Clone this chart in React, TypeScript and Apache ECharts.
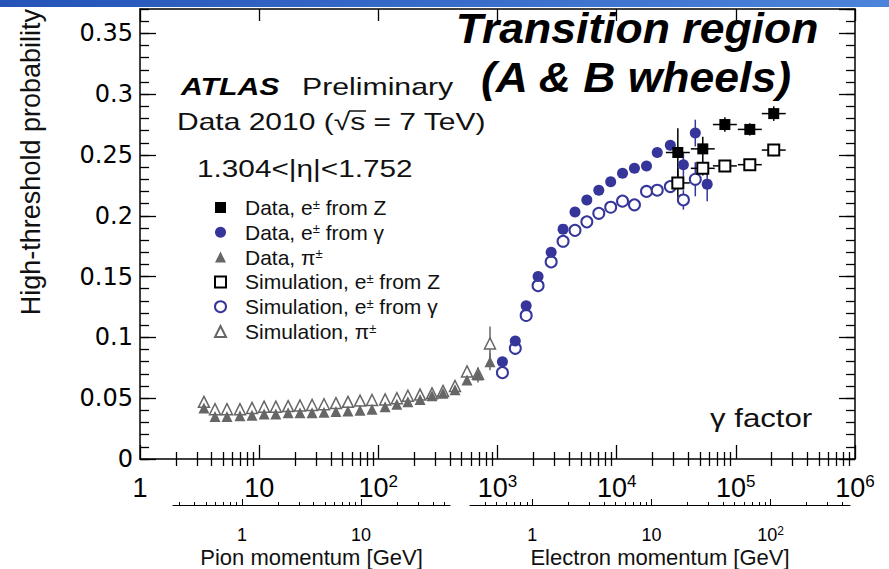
import { useEffect, useRef } from 'react';
import * as echarts from 'echarts';

const W = 889;
const H = 569;
const FONT = '"Liberation Sans", Arial, Helvetica, sans-serif';
const TEXT = '#111';
const BLUE = '#35359a';
const GREY = '#666666';

// Main frame (gamma-factor axis runs from 1 to 10^6)
const PLOT = { left: 140, right: 34, top: 9, bottom: 110 };
const PLOT_WIDTH = W - PLOT.left - PLOT.right;
const GAMMA_MIN = 1;
const GAMMA_MAX = 1e6;
const PROB_MAX = 0.37;

const PION_MASS_GEV = 0.13957;
const ELECTRON_MASS_GEV = 0.000511;

// ---- Pions (Data and Simulation) ----
const pionGamma = [3.44, 4.26, 5.37, 6.9, 8.71, 11.0, 13.8, 17.5, 22.0, 27.8, 35.0, 44.1, 55.6, 70.2, 88.5, 114, 143, 177, 224, 282, 349, 440, 555, 686, 865];
const pionData = [0.042, 0.035, 0.035, 0.0355, 0.036, 0.037, 0.037, 0.038, 0.038, 0.038, 0.0385, 0.039, 0.0395, 0.04, 0.041, 0.043, 0.045, 0.047, 0.049, 0.052, 0.054, 0.057, 0.065, 0.069, 0.08];
const pionDataErr = [0, 0, 0, 0, 0, 0, 0, 0, 0, 0, 0, 0, 0, 0, 0, 0, 0, 0, 0, 0, 0, 0.003, 0.004, 0.006, 0.007];
const pionSim = [0.047, 0.041, 0.041, 0.041, 0.042, 0.043, 0.043, 0.0435, 0.044, 0.0445, 0.045, 0.046, 0.047, 0.048, 0.0485, 0.049, 0.05, 0.052, 0.053, 0.054, 0.056, 0.06, 0.072, 0.07, 0.095];
const pionSimErr = [0, 0, 0, 0, 0, 0, 0, 0, 0, 0, 0, 0, 0, 0, 0, 0, 0, 0, 0, 0, 0, 0.003, 0.004, 0.005, 0.014];

// ---- Electrons from photon conversions ----
const convGammaData = [1100, 1410, 1740, 2190, 2820, 3550, 4470, 5620, 7080, 8910, 11200, 14100, 17800, 21900, 28200, 36300, 45700, 57500];
const convData = [0.08, 0.097, 0.126, 0.15, 0.17, 0.189, 0.203, 0.213, 0.221, 0.228, 0.235, 0.239, 0.241, 0.252, 0.258, 0.242, 0.268, 0.226];
const convDataErr = [0, 0, 0, 0, 0, 0, 0, 0, 0, 0, 0, 0, 0, 0, 0.004, 0.01, 0.011, 0.014];
const convGammaSim = [1100, 1410, 1740, 2190, 2820, 3550, 4470, 5620, 7080, 8910, 11200, 14100, 17800, 21900, 28200, 36300, 45700];
const convSim = [0.071, 0.091, 0.118, 0.1425, 0.162, 0.179, 0.188, 0.195, 0.202, 0.207, 0.212, 0.209, 0.22, 0.221, 0.224, 0.213, 0.23];
const convSimErr = [0, 0, 0, 0, 0, 0, 0, 0, 0, 0, 0, 0, 0, 0, 0.004, 0.008, 0.014];

// ---- Electrons from Z decays ----
const zGamma = [32600, 52800, 80900, 131000, 208000];
const zData = [0.252, 0.255, 0.275, 0.271, 0.284];
const zDataErr = [0.02, 0.01, 0.006, 0.005, 0.006];
const zSim = [0.227, 0.239, 0.241, 0.242, 0.254];
const zSimErr = [0.012, 0.006, 0.004, 0.004, 0.005];
const zBinHalfWidth = 1.26; // multiplicative half-width of each Z bin in gamma

// ---- Tick values ----
const decadeMultipliers = [2, 3, 4, 5, 6, 7, 8, 9];
const gammaDecades = [1, 10, 100, 1e3, 1e4, 1e5];
const pionMomentumTicks = [1, 10];
const pionMomentumDecades = [0.1, 1, 10];
const electronMomentumTicks = [1, 10, 100];
const electronMomentumDecades = [0.1, 1, 10, 100];

// Secondary momentum scales, placed under the gamma axis
const PION_AXIS_PX = [173, 450];
const ELECTRON_AXIS_PX = [470, 850];
const SUB_AXIS_Y = 510;

const seriesNames = [
  'Data, e± from Z',
  'Data, e± from γ',
  'Data, π±',
  'Simulation, e± from Z',
  'Simulation, e± from γ',
  'Simulation, π±',
];

const pxToGamma = (px: number) =>
  GAMMA_MIN * Math.pow(10, ((px - PLOT.left) / PLOT_WIDTH) * Math.log10(GAMMA_MAX / GAMMA_MIN));

const minorValues = (decades: number[], lo: number, hi: number) => {
  const out: number[] = [];
  decades.forEach((d) => decadeMultipliers.forEach((m) => {
    const v = d * m;
    if (v > lo && v < hi) out.push(v);
  }));
  return out;
};

const powerLabel = (v: number) => {
  const k = Math.round(Math.log10(v));
  if (k === 0) return '1';
  if (k === 1) return '10';
  return `10{sup|${k}}`;
};

const pairs = (xs: number[], ys: number[]) => xs.map((x, i) => [x, ys[i]]);

const errorBars = (xs: number[], ys: number[], errs: number[], binFactor: number) =>
  xs.map((x, i) => [x, ys[i], errs[i], binFactor ? x / binFactor : 0, binFactor ? x * binFactor : 0]);

function errorBarSeries(data: number[][], color: string, width: number) {
  return {
    type: 'custom',
    xAxisIndex: 0,
    yAxisIndex: 0,
    z: 1,
    silent: true,
    encode: { x: 0, y: 1 },
    data,
    renderItem: (_params: any, api: any) => {
      const g = api.value(0);
      const v = api.value(1);
      const e = api.value(2);
      const lo = api.value(3);
      const hi = api.value(4);
      const c = api.coord([g, v]);
      const children: any[] = [];
      if (e > 0) {
        const t = api.coord([g, v + e]);
        const b = api.coord([g, v - e]);
        children.push({ type: 'line', shape: { x1: c[0], y1: t[1], x2: c[0], y2: b[1] }, style: { stroke: color, lineWidth: width } });
      }
      if (lo > 0 && hi > 0) {
        const l = api.coord([lo, v]);
        const r = api.coord([hi, v]);
        children.push({ type: 'line', shape: { x1: l[0], y1: c[1], x2: r[0], y2: c[1] }, style: { stroke: color, lineWidth: width } });
      }
      return { type: 'group', children };
    },
  };
}

const frameLine = { show: true, onZero: false, lineStyle: { color: '#000', width: 1.5 } };
const tickStyle = { color: '#000', width: 1.3 };

function buildOption() {
  const gammaMinor = minorValues(gammaDecades, GAMMA_MIN, GAMMA_MAX);
  const pionExtent = PION_AXIS_PX.map((px) => pxToGamma(px) * PION_MASS_GEV);
  const electronExtent = ELECTRON_AXIS_PX.map((px) => pxToGamma(px) * ELECTRON_MASS_GEV);
  const pionMinor = minorValues(pionMomentumDecades, pionExtent[0], pionExtent[1]);
  const electronMinor = minorValues(electronMomentumDecades, electronExtent[0], electronExtent[1]);

  const mainLabel = {
    show: true,
    margin: 14,
    fontFamily: FONT,
    fontSize: 27,
    lineHeight: 30,
    color: '#000',
    showMinLabel: true,
    showMaxLabel: true,
    formatter: powerLabel,
    rich: { sup: { fontFamily: FONT, fontSize: 17, lineHeight: 17, verticalAlign: 'top', color: '#000' } },
  };

  const subAxis = (gridIndex: number, extent: number[], ticks: number[], name: string) => ({
    type: 'log',
    gridIndex,
    position: 'bottom',
    min: extent[0],
    max: extent[1],
    axisLine: { show: true, onZero: false, lineStyle: { color: '#000', width: 1.2 } },
    axisTick: { show: true, inside: true, length: 6, customValues: ticks, lineStyle: { color: '#000', width: 1 } },
    axisLabel: {
      show: true,
      customValues: ticks,
      margin: 20,
      fontFamily: FONT,
      fontSize: 18,
      lineHeight: 20,
      color: '#000',
      formatter: powerLabel,
      rich: { sup: { fontFamily: FONT, fontSize: 12, lineHeight: 12, verticalAlign: 'top', color: '#000' } },
    },
    splitLine: { show: false },
    name,
    nameLocation: 'middle',
    nameGap: 41,
    nameTextStyle: { fontFamily: FONT, fontSize: 22, color: TEXT },
  });

  const subMinor = (gridIndex: number, extent: number[], values: number[]) => ({
    type: 'log',
    gridIndex,
    position: 'bottom',
    min: extent[0],
    max: extent[1],
    axisLine: { show: false },
    axisTick: { show: true, inside: true, length: 3, customValues: values, lineStyle: { color: '#000', width: 1 } },
    axisLabel: { show: false },
    splitLine: { show: false },
  });

  const gammaAxis = (position: string, major: boolean) => ({
    type: 'log',
    gridIndex: 0,
    position,
    min: GAMMA_MIN,
    max: GAMMA_MAX,
    splitNumber: 6,
    axisLine: major ? frameLine : { show: false },
    axisTick: major
      ? { show: true, inside: true, length: position === 'bottom' ? 14 : 12, lineStyle: tickStyle }
      : { show: true, inside: true, length: 7, customValues: gammaMinor, lineStyle: tickStyle },
    axisLabel: major && position === 'bottom' ? mainLabel : { show: false },
    splitLine: { show: false },
  });

  const probAxis = (position: string, major: boolean) => ({
    type: 'value',
    gridIndex: 0,
    position,
    min: 0,
    max: PROB_MAX,
    interval: major ? 0.05 : 0.01,
    axisLine: major ? frameLine : { show: false },
    axisTick: { show: true, inside: true, length: major ? 16 : 9, lineStyle: tickStyle },
    axisLabel: major && position === 'left'
      ? { show: true, margin: 7, fontFamily: '"DejaVu Sans", sans-serif', fontSize: 24, color: '#000', showMaxLabel: false }
      : { show: false },
    splitLine: { show: false },
  });

  const scatter = (name: string, data: number[][], symbol: string, size: number, style: any, z = 3) => ({
    type: 'scatter',
    name,
    xAxisIndex: 0,
    yAxisIndex: 0,
    data,
    symbol,
    symbolSize: size,
    itemStyle: { opacity: 1, ...style },
    z,
    silent: true,
  });

  const openStyle = (color: string, w: number) => ({ color: '#fff', borderColor: color, borderWidth: w });

  return {
    animation: false,
    backgroundColor: '#fff',
    grid: [
      { left: PLOT.left, right: PLOT.right, top: PLOT.top, bottom: PLOT.bottom, show: false },
      { left: PION_AXIS_PX[0], width: PION_AXIS_PX[1] - PION_AXIS_PX[0], top: SUB_AXIS_Y - 10, height: 10, show: false },
      { left: ELECTRON_AXIS_PX[0], width: ELECTRON_AXIS_PX[1] - ELECTRON_AXIS_PX[0], top: SUB_AXIS_Y - 10, height: 10, show: false },
    ],
    xAxis: [
      gammaAxis('bottom', true),
      gammaAxis('bottom', false),
      gammaAxis('top', true),
      gammaAxis('top', false),
      subAxis(1, pionExtent, pionMomentumTicks, 'Pion momentum [GeV]'),
      subMinor(1, pionExtent, pionMinor),
      subAxis(2, electronExtent, electronMomentumTicks, 'Electron momentum [GeV]'),
      subMinor(2, electronExtent, electronMinor),
    ],
    yAxis: [
      probAxis('left', true),
      probAxis('left', false),
      probAxis('right', true),
      probAxis('right', false),
      { type: 'value', gridIndex: 1, show: false, min: 0, max: 1 },
      { type: 'value', gridIndex: 2, show: false, min: 0, max: 1 },
    ],
    legend: {
      orient: 'vertical',
      left: 209,
      top: 192,
      itemWidth: 11,
      itemHeight: 11,
      itemGap: 3.8,
      data: seriesNames,
      selectedMode: false,
      formatter: (name: string) => name.replace('±', '{sup|±}'),
      textStyle: {
        fontFamily: FONT,
        fontSize: 21,
        lineHeight: 20,
        color: TEXT,
        padding: [0, 0, 0, 14],
        rich: { sup: { fontFamily: FONT, fontSize: 13, lineHeight: 12, verticalAlign: 'top', color: TEXT } },
      },
    },
    series: [
      errorBarSeries(errorBars(pionGamma, pionSim, pionSimErr, 0), GREY, 1.5),
      errorBarSeries(errorBars(pionGamma, pionData, pionDataErr, 0), GREY, 1.5),
      errorBarSeries(errorBars(convGammaSim, convSim, convSimErr, 0), BLUE, 1.5),
      errorBarSeries(errorBars(convGammaData, convData, convDataErr, 0), BLUE, 1.5),
      errorBarSeries(errorBars(zGamma, zSim, zSimErr, zBinHalfWidth), '#000', 1.5),
      errorBarSeries(errorBars(zGamma, zData, zDataErr, zBinHalfWidth), '#000', 1.5),
      scatter(seriesNames[5], pairs(pionGamma, pionSim), 'triangle', 11, openStyle(GREY, 1.5)),
      scatter(seriesNames[2], pairs(pionGamma, pionData), 'triangle', 11, { color: GREY }),
      scatter(seriesNames[4], pairs(convGammaSim, convSim), 'circle', 11, openStyle(BLUE, 2)),
      scatter(seriesNames[1], pairs(convGammaData, convData), 'circle', 11, { color: BLUE }),
      scatter(seriesNames[3], pairs(zGamma, zSim), 'rect', 11, openStyle('#000', 2)),
      scatter(seriesNames[0], pairs(zGamma, zData), 'rect', 11, { color: '#000' }),
    ],
    graphic: [
      {
        type: 'rect',
        silent: true,
        shape: { x: 0, y: 0, width: W, height: 7 },
        style: {
          fill: new echarts.graphic.LinearGradient(0, 0, 1, 0, [
            { offset: 0, color: '#2553b8' },
            { offset: 1, color: '#4c84da' },
          ]),
        },
      },
      {
        type: 'text',
        silent: true,
        x: 31,
        y: 9,
        rotation: Math.PI / 2,
        style: { text: 'High-threshold probability', fontFamily: FONT, fontSize: 27, fill: TEXT, align: 'right', verticalAlign: 'middle' },
      },
      {
        type: 'text', silent: true, x: 181, y: 86.6, scaleX: 1.26,
        style: { text: 'ATLAS', fontFamily: FONT, fontSize: 24, fontWeight: 'bold', fontStyle: 'italic', fill: '#000', align: 'left', verticalAlign: 'middle' },
      },
      {
        type: 'text', silent: true, x: 302, y: 86.6, scaleX: 1.26,
        style: { text: 'Preliminary', fontFamily: FONT, fontSize: 24, fill: TEXT, align: 'left', verticalAlign: 'middle' },
      },
      {
        type: 'text', silent: true, x: 177, y: 121.6, scaleX: 1.25,
        style: { text: 'Data 2010 (√s = 7 TeV)', fontFamily: FONT, fontSize: 24, fill: TEXT, align: 'left', verticalAlign: 'middle' },
      },
      {
        type: 'line', silent: true,
        shape: { x1: 349, y1: 111, x2: 366, y2: 111 },
        style: { stroke: TEXT, lineWidth: 1.5 },
      },
      {
        type: 'text', silent: true, x: 197, y: 168.6, scaleX: 1.24,
        style: { text: '1.304<|η|<1.752', fontFamily: FONT, fontSize: 24, fill: TEXT, align: 'left', verticalAlign: 'middle' },
      },
      {
        type: 'text', silent: true, x: 710, y: 418, scaleX: 1.2,
        style: { text: 'γ factor', fontFamily: FONT, fontSize: 26, fill: TEXT, align: 'left', verticalAlign: 'middle' },
      },
      {
        type: 'text', silent: true, x: 637, y: 28.5, scaleX: 1.06,
        style: { text: 'Transition region', fontFamily: FONT, fontSize: 42, fontWeight: 'bold', fontStyle: 'italic', fill: '#000', align: 'center', verticalAlign: 'middle' },
      },
      {
        type: 'text', silent: true, x: 636, y: 77.5, scaleX: 1.06,
        style: { text: '(A & B wheels)', fontFamily: FONT, fontSize: 42, fontWeight: 'bold', fontStyle: 'italic', fill: '#000', align: 'center', verticalAlign: 'middle' },
      },
    ],
  };
}

export default function App() {
  const ref = useRef<HTMLDivElement>(null);

  useEffect(() => {
    document.body.style.margin = '0';
    if (!ref.current) return;
    const chart = echarts.init(ref.current, null, { renderer: 'svg' });
    chart.setOption(buildOption() as any);
    return () => chart.dispose();
  }, []);

  return <div ref={ref} style={{ width: W, height: H }} />;
}
